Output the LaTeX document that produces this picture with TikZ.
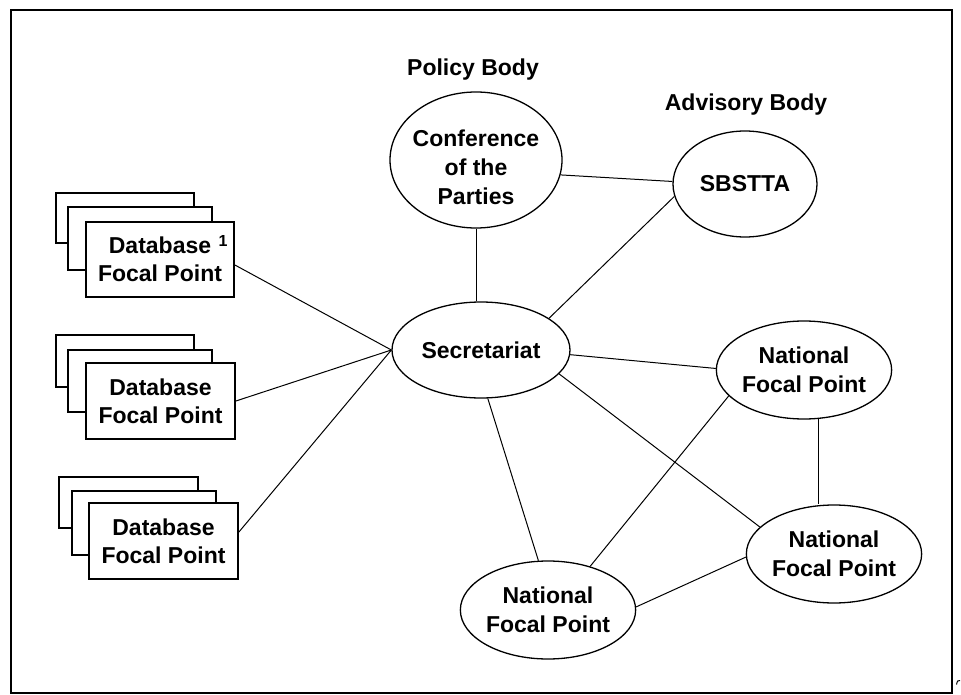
\documentclass[tikz,border=0pt]{standalone}
\usepackage{fontspec}
\setmainfont{Liberation Sans}
\usetikzlibrary{shapes.geometric}
\begin{document}
\begin{tikzpicture}[x=1pt,y=-1pt,
  lbl/.style={font=\fontsize{23}{29}\selectfont\bfseries, align=center, inner sep=0pt},
  oval/.style={draw, ellipse, line width=1.3pt, inner sep=0pt, fill=white,
    font=\fontsize{23}{28.5}\selectfont\bfseries, align=center},
  card/.style={draw, line width=1.8pt, fill=white},
  cardtext/.style={card, inner sep=0pt, font=\fontsize{23}{28}\selectfont\bfseries, align=center},
  link/.style={line width=1pt},
]
\useasboundingbox (0,0) rectangle (961,695);
\draw[line width=2.5pt] (11,10) rectangle (952,693);
\draw[line width=1pt] (960,680.5) .. controls (957.5,680.5) .. (956.5,684.5);

% headings
\node[lbl, anchor=base] (policy) at (473,76) {Policy Body};
\node[lbl, anchor=base] (advisory) at (746,111) {Advisory Body};

% ellipses
\node[oval, minimum width=172pt, minimum height=136pt] (conf) at (476,160) {};
\node[lbl] (conft) at (476,167) {Conference\\of the\\Parties};
\node[oval, minimum width=144pt, minimum height=106pt] (sbs) at (745,184) {SBSTTA};
\node[oval, minimum width=178pt, minimum height=96pt] (sec) at (481,350) {Secretariat};
\node[oval, minimum width=172pt, minimum height=98pt] (nfp1) at (804,370) {National\\Focal Point};
\node[oval, minimum width=172pt, minimum height=98pt] (nfp3) at (834,554) {National\\Focal Point};
\node[oval, minimum width=172pt, minimum height=98pt] (nfp2) at (548,610) {National\\Focal Point};

% database stacks
\draw[card] (55.7,193) rectangle (194,243);
\draw[card] (68,207) rectangle (212,270);
\node[cardtext, minimum width=148pt, minimum height=75pt] (db1) at (160,259.5) {Database\\Focal Point};
\node[font=\fontsize{16}{16}\selectfont\bfseries, inner sep=0pt] (sup1) at (223,241) {1};

\draw[card] (56,335) rectangle (194,387);
\draw[card] (68,350) rectangle (212,412);
\node[cardtext, minimum width=149pt, minimum height=76pt] (db2) at (160.5,401) {Database\\Focal Point};

\draw[card] (59,477) rectangle (198,528);
\draw[card] (72,491) rectangle (216,555);
\node[cardtext, minimum width=149pt, minimum height=76pt] (db3) at (163.5,541) {Database\\Focal Point};

% connectors
\draw[link] ([yshift=-5.5pt]db1.east) -- (sec.west);
\draw[link] (db2.east) -- (sec.west);
\draw[link] ([yshift=9pt]db3.east) -- (sec.west);
\draw[link] (conf.south) -- (conf.south |- sec.north);
\draw[link] (conf.-10) -- (sbs.178);
\draw[link] (sec.25) -- (sbs.190);
\draw[link] (sec.-3) -- (nfp1.179);
\draw[link] (sec.-17) -- (nfp3.160);
\draw[link] (sec.-82) -- (nfp2.101);
\draw[link] (nfp1.199) -- (nfp2.46);
\draw[link] (nfp1.-74) -- (nfp1.-74 |- nfp3.north);
\draw[link] (nfp2.2) -- (nfp3.182);
\end{tikzpicture}
\end{document}
